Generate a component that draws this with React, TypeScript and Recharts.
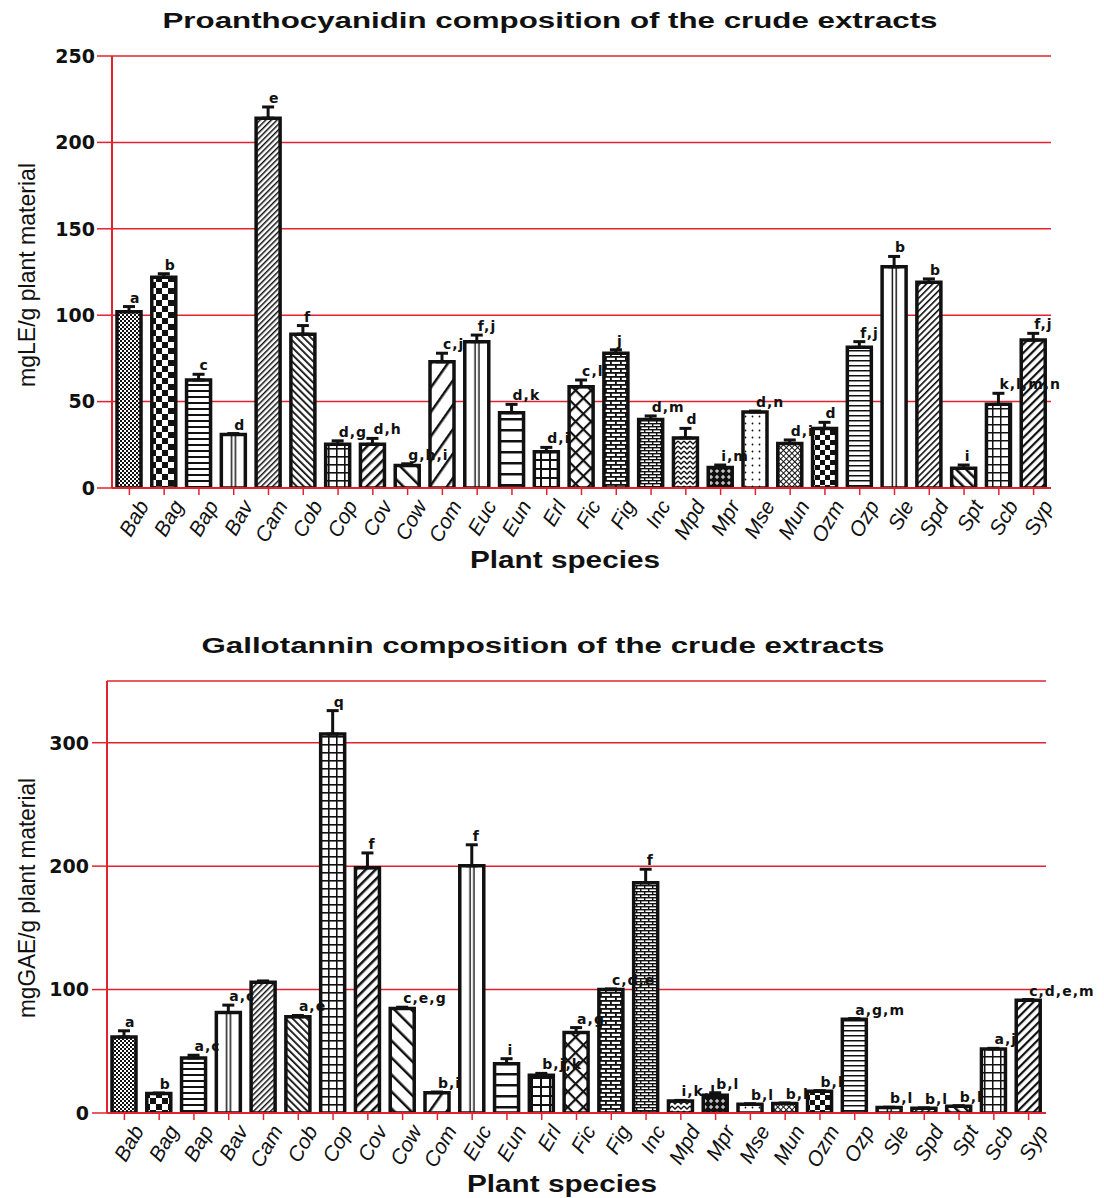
import React from "react";
import {
  BarChart, Bar, XAxis, YAxis, CartesianGrid, ErrorBar, Cell, LabelList
} from "recharts";

const species = [
  "Bab", "Bag", "Bap", "Bav", "Cam", "Cob", "Cop", "Cov", "Cow", "Com", "Euc", "Eun", "Erl", "Fic",
  "Fig", "Inc", "Mpd", "Mpr", "Mse", "Mun", "Ozm", "Ozp", "Sle", "Spd", "Spt", "Scb", "Syp"
];

// proanthocyanidins, mg LE / g
const pacMeans = [
  102, 122, 62.5, 31, 214, 89, 25.3, 25.3, 13, 73, 84.7, 43.6, 21, 58.6,
  78, 39.7, 29, 11.8, 44, 25.8, 34.5, 81.4, 128, 119, 11.4, 48.4, 85.6
];
const pacSem = [
  3, 2, 3.3, 0.5, 6.5, 5, 2, 3.4, 1, 5, 3.8, 4.8, 2.5, 3.9,
  2, 2, 5.5, 1.5, 0.5, 2, 3.5, 3.3, 6, 2, 1.9, 6.4, 3.9
];
const pacLetters = [
  "a", "b", "c", "d", "e", "f", "d,g", "d,h", "g,h,i", "c,j", "f,j", "d,k", "d,i", "c,l",
  "j", "d,m", "d", "i,m", "d,n", "d,i", "d", "f,j", "b", "b", "i", "k,l,m,n", "f,j"
];
const pacTicks = [0, 50, 100, 150, 200, 250];

// gallotannins, mg GAE / g
const gtMeans = [
  61.6, 15.7, 44.6, 81.4, 106, 78, 307, 198.7, 84.7, 16.5, 200.3, 40, 30.6, 65.2,
  100, 186.5, 9.7, 14.4, 7, 7.6, 17.6, 76, 4.4, 3.8, 5.4, 51.9, 91.4
];
const gtSem = [
  5, 0.5, 2.2, 6, 1, 1, 19, 12, 1, 0.5, 17, 4, 1.5, 4,
  0.5, 11, 0.5, 2, 0.5, 0.5, 0.5, 0.5, 0.3, 0.3, 0.5, 0.5, 0.5
];
const gtLetters = [
  "a", "b", "a,c", "a,c", "", "a,e", "q", "f", "c,e,g", "b,i", "f", "i", "b,j,k", "a,g",
  "c,d,e", "f", "i,k,l", "b,l", "b,l", "b,l", "b,l", "a,g,m", "b,l", "b,l", "b,l", "a,j", "c,d,e,m"
];
const gtTicks = [0, 100, 200, 300];

const RED = "#e2232d";
const INK = "#111";

function makeRows(means: number[], sem: number[]) {
  return species.map((name, i) => ({ name, idx: i, value: means[i], err: [0, sem[i]] }));
}

// ---- fill patterns, one per species ----
const hatch = (id: string, size: number, thick: number, angle: number) => (
  <pattern key={id} id={id} patternUnits="userSpaceOnUse" width={size} height={size}
    patternTransform={`rotate(${angle})`}>
    <rect width={size} height={size} fill="#fff" />
    <rect width={thick} height={size} fill={INK} />
  </pattern>
);
const grid = (id: string, size: number, thick: number, angle = 0) => (
  <pattern key={id} id={id} patternUnits="userSpaceOnUse" width={size} height={size}
    patternTransform={`rotate(${angle})`}>
    <rect width={size} height={size} fill="#fff" />
    <rect width={thick} height={size} fill={INK} />
    <rect width={size} height={thick} fill={INK} />
  </pattern>
);
const checker = (id: string, cell: number) => (
  <pattern key={id} id={id} patternUnits="userSpaceOnUse" width={cell * 2} height={cell * 2}>
    <rect width={cell * 2} height={cell * 2} fill="#fff" />
    <rect width={cell} height={cell} fill={INK} />
    <rect x={cell} y={cell} width={cell} height={cell} fill={INK} />
  </pattern>
);
const brick = (id: string, w: number, h: number, t: number) => (
  <pattern key={id} id={id} patternUnits="userSpaceOnUse" width={w} height={h}>
    <rect width={w} height={h} fill="#fff" />
    <rect width={w} height={t} fill={INK} />
    <rect y={h / 2} width={w} height={t} fill={INK} />
    <rect width={t} height={h / 2} fill={INK} />
    <rect x={w / 2} y={h / 2} width={t} height={h / 2} fill={INK} />
  </pattern>
);
const vpair = (id: string) => (
  <pattern key={id} id={id} width="1" height="1" patternContentUnits="objectBoundingBox">
    <rect width="1" height="1" fill="#fff" />
    <rect x="0.4" width="0.06" height="1" fill={INK} />
    <rect x="0.56" width="0.06" height="1" fill={INK} />
  </pattern>
);
const dots = (id: string, size: number, r: number) => (
  <pattern key={id} id={id} patternUnits="userSpaceOnUse" width={size} height={size}>
    <rect width={size} height={size} fill="#fff" />
    <circle cx={size / 2} cy={size / 2} r={r} fill={INK} />
  </pattern>
);
const chevron = (id: string) => (
  <pattern key={id} id={id} patternUnits="userSpaceOnUse" width={6} height={5}>
    <rect width={6} height={5} fill="#fff" />
    <path d="M0 1 L3 4 L6 1" stroke={INK} strokeWidth={1.3} fill="none" />
  </pattern>
);
const plus = (id: string) => (
  <pattern key={id} id={id} patternUnits="userSpaceOnUse" width={6} height={6}>
    <rect width={6} height={6} fill={INK} />
    <rect x={1} y={2.5} width={4} height={1} fill="#fff" />
    <rect x={2.5} y={1} width={1} height={4} fill="#fff" />
  </pattern>
);

const patterns = [
  checker("pat-0", 2),
  checker("pat-1", 6),
  hatch("pat-2", 6, 2, 90),
  vpair("pat-3"),
  hatch("pat-4", 4, 1.5, 45),
  hatch("pat-5", 5, 1.8, -45),
  grid("pat-6", 8, 1.6),
  hatch("pat-7", 7, 2.5, 45),
  hatch("pat-8", 12, 2.5, -45),
  hatch("pat-9", 14, 2.5, 35),
  vpair("pat-10"),
  hatch("pat-11", 11, 2.5, 90),
  grid("pat-12", 9, 2),
  grid("pat-13", 11, 2.2, 45),
  brick("pat-14", 10, 8, 1.8),
  brick("pat-15", 8, 6, 1.4),
  chevron("pat-16"),
  plus("pat-17"),
  dots("pat-18", 7, 0.9),
  grid("pat-19", 4, 1, 45),
  checker("pat-20", 5),
  hatch("pat-21", 5, 1.5, 90),
  vpair("pat-22"),
  hatch("pat-23", 4.5, 1.6, 45),
  hatch("pat-24", 7, 2.5, -45),
  grid("pat-25", 8, 1.5),
  hatch("pat-26", 6, 2.2, 45),
];

// ---- ticks and labels ----
const XTick = (p: any) => (
  <g transform={`translate(${p.x + 7},${p.y + 1})`}>
    <text transform="rotate(-60)" textAnchor="end" dy="0.72em" fontFamily="Liberation Sans, Arial"
      fontStyle="italic" fontSize={21} fill={INK}>
      {p.payload.value}
    </text>
  </g>
);

const YTick = (p: any) => (
  <text x={p.x} y={p.y} dy="0.36em" textAnchor="end" fontFamily="DejaVu Sans"
    fontWeight="bold" fontSize={19} fill={INK}>
    {p.payload.value}
  </text>
);

const letterLabel = (sem: number[], means: number[], letters: string[]) => (p: any) => {
  const vb = p.viewBox ?? p;
  const i = Number(p.value);
  const text = letters[i];
  if (!text) return null;
  const perUnit = vb.height / means[i];
  const top = vb.y - sem[i] * perUnit;
  return (
    <text x={vb.x + vb.width / 2 + 1} y={top - 4} fontFamily="DejaVu Sans" fontWeight="bold"
      fontSize={14} letterSpacing={1} fill={INK}>
      {text}
    </text>
  );
};

function Panel({ means, sem, letters, ticks, domain, margin, tickGap }: any) {
  const rows = makeRows(means, sem);
  return (
    <BarChart width={1104} height={600} data={rows} margin={margin} barSize={24}>
      <CartesianGrid vertical={false} stroke={RED} strokeWidth={1.5} />
      <XAxis dataKey="name" interval={0} tick={<XTick />} tickSize={7} tickMargin={2}
        tickLine={{ stroke: RED, strokeWidth: 1.5 }} axisLine={{ stroke: RED, strokeWidth: 2 }}
        height={80} />
      <YAxis domain={domain} ticks={ticks} interval={0} allowDataOverflow tick={<YTick />}
        tickSize={15} tickMargin={tickGap} width={82}
        tickLine={{ stroke: RED, strokeWidth: 1.5 }} axisLine={{ stroke: RED, strokeWidth: 2 }} />
      <Bar dataKey="value" stroke={INK} strokeWidth={3.5} isAnimationActive={false}>
        {rows.map((r) => (
          <Cell key={r.name} fill={`url(#pat-${r.idx})`} />
        ))}
        <ErrorBar dataKey="err" width={6} strokeWidth={3} stroke={INK} direction="y" />
        <LabelList dataKey="idx" content={letterLabel(sem, means, letters)} />
      </Bar>
    </BarChart>
  );
}

export default function App() {
  return (
    <div style={{ position: "absolute", left: 0, top: 0, width: 1104, height: 1198, background: "#fff" }}>
      <div style={{ position: "absolute", left: 0, top: 0 }}>
        <Panel means={pacMeans} sem={pacSem} letters={pacLetters} ticks={pacTicks} domain={[0, 250]}
          margin={{ top: 56, right: 53, left: 30, bottom: 32 }} tickGap={2} />
      </div>
      <div style={{ position: "absolute", left: 0, top: 600 }}>
        <Panel means={gtMeans} sem={gtSem} letters={gtLetters} ticks={gtTicks} domain={[0, 350]}
          margin={{ top: 81, right: 58, left: 25, bottom: 7 }} tickGap={3} />
      </div>
      <svg width={1104} height={1198} style={{ position: "absolute", left: 0, top: 0, pointerEvents: "none" }}>
        <defs>{patterns}</defs>
        <text x={550} y={28} textAnchor="middle" fontFamily="Liberation Sans, Arial" fontWeight="bold" fontSize={22}
          textLength={775} lengthAdjust="spacingAndGlyphs" fill={INK}>
          Proanthocyanidin composition of the crude extracts
        </text>
        <text x={543} y={653} textAnchor="middle" fontFamily="Liberation Sans, Arial" fontWeight="bold" fontSize={22}
          textLength={683} lengthAdjust="spacingAndGlyphs" fill={INK}>
          Gallotannin composition of the crude extracts
        </text>
        <text x={35} y={275} transform="rotate(-90 35 275)" textAnchor="middle" fontFamily="Liberation Sans, Arial"
          fontSize={24} textLength={224} lengthAdjust="spacingAndGlyphs" fill={INK}>
          mgLE/g plant material
        </text>
        <text x={35} y={898} transform="rotate(-90 35 898)" textAnchor="middle" fontFamily="Liberation Sans, Arial"
          fontSize={24} textLength={240} lengthAdjust="spacingAndGlyphs" fill={INK}>
          mgGAE/g plant material
        </text>
        <text x={565} y={568} textAnchor="middle" fontFamily="Liberation Sans, Arial" fontWeight="bold"
          fontSize={23} textLength={190} lengthAdjust="spacingAndGlyphs" fill={INK}>
          Plant species
        </text>
        <text x={562} y={1192} textAnchor="middle" fontFamily="Liberation Sans, Arial" fontWeight="bold"
          fontSize={23} textLength={190} lengthAdjust="spacingAndGlyphs" fill={INK}>
          Plant species
        </text>
      </svg>
    </div>
  );
}
